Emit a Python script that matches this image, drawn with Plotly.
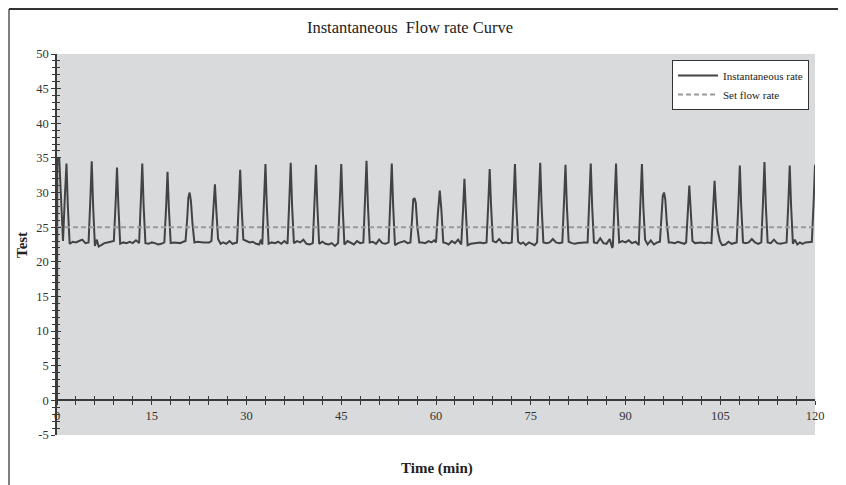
import plotly.graph_objects as go

# ---- data ----
time_min = [
    0, 0.05, 0.35, 0.65, 0.95, 1.25, 1.5, 1.72, 2.0, 2.5, 3.0, 3.5, 4.0, 4.5, 5.0,
    5.28, 5.5, 5.72, 6.0, 6.3, 6.6, 7.0, 7.5, 8.0, 8.5, 9.0,
    9.28, 9.5, 9.72, 10.0, 10.5, 11.0, 11.5, 12.0, 12.5, 13.0,
    13.28, 13.5, 13.72, 14.0, 14.5, 15.0, 15.5, 16.0, 16.5, 17.0,
    17.28, 17.5, 17.72, 18.0, 18.5, 19.0, 19.5, 20.0, 20.35,
    20.6, 20.8, 21.0, 21.2, 21.45, 21.75, 22.2, 22.7, 23.2, 23.7, 24.1, 24.45,
    24.75, 25.0, 25.22, 25.5, 25.9, 26.3, 26.8, 27.3, 27.8, 28.2, 28.5,
    28.78, 29.0, 29.22, 29.5, 30.0, 30.5, 31.0, 31.5, 32.0, 32.3, 32.5,
    32.78, 33.0, 33.22, 33.5, 34.0, 34.5, 35.0, 35.5, 36.0, 36.5,
    36.78, 37.0, 37.22, 37.5, 38.0, 38.5, 39.0, 39.5, 40.0, 40.5,
    40.78, 41.0, 41.22, 41.5, 42.0, 42.5, 43.0, 43.5, 44.0, 44.5,
    44.78, 45.0, 45.22, 45.5, 46.0, 46.5, 47.0, 47.5, 48.0, 48.5,
    48.78, 49.0, 49.22, 49.5, 50.0, 50.5, 51.0, 51.5, 52.0, 52.5,
    52.78, 53.0, 53.22, 53.5, 54.0, 54.5, 55.0, 55.5, 55.95,
    56.2, 56.4, 56.6, 56.8, 57.05, 57.35, 57.8, 58.3, 58.8, 59.3, 59.7, 60.0,
    60.3, 60.6, 60.85, 61.15, 61.6, 62.0, 62.5, 63.0, 63.5, 64.0,
    64.28, 64.5, 64.72, 65.0, 65.5, 66.0, 66.5, 67.0, 67.5, 68.0,
    68.28, 68.5, 68.72, 69.0, 69.5, 70.0, 70.5, 71.0, 71.5, 72.0,
    72.28, 72.5, 72.72, 73.0, 73.4, 73.8, 74.2, 74.7, 75.2, 75.6, 76.0,
    76.28, 76.5, 76.72, 77.0, 77.5, 78.0, 78.5, 79.0, 79.5, 80.0,
    80.28, 80.5, 80.72, 81.0, 81.5, 82.0, 82.5, 83.0, 83.5, 84.0,
    84.28, 84.5, 84.72, 85.0, 85.5, 86.0, 86.5, 87.0, 87.5, 87.9, 88.0,
    88.28, 88.5, 88.72, 89.0, 89.5, 90.0, 90.5, 91.0, 91.6, 92.1,
    92.38, 92.6, 92.82, 93.1, 93.5, 94.0, 94.5, 95.0, 95.45,
    95.7, 95.9, 96.1, 96.3, 96.55, 96.85, 97.3, 97.8, 98.3, 98.8, 99.3, 99.6,
    99.88, 100.1, 100.32, 100.6, 101.0, 101.5, 102.0, 102.5, 103.0, 103.6,
    103.88, 104.1, 104.32, 104.6, 104.95, 105.3, 105.8, 106.3, 106.8, 107.3, 107.6,
    107.88, 108.1, 108.32, 108.6, 109.0, 109.5, 110.0, 110.5, 111.0, 111.5,
    111.78, 112.0, 112.22, 112.5, 113.0, 113.5, 114.0, 114.5, 115.0, 115.5,
    115.78, 116.0, 116.22, 116.5, 116.8, 117.2, 117.6, 118.0, 118.5, 119.0, 119.5,
    119.78, 120.0,
]
inst_rate = [
    0, 35.0, 35.0, 29.0, 23.0, 29.5, 34.2, 28.0, 22.6, 22.9, 22.8, 23.0, 23.2, 22.7, 22.8,
    29.0, 34.5, 28.0, 22.3, 23.2, 22.2, 22.4, 22.7, 22.8, 22.9, 23.0,
    28.5, 33.6, 28.0, 22.6, 22.8, 22.7, 22.9, 22.7, 23.1, 22.7,
    29.0, 34.2, 28.0, 22.7, 22.6, 22.8, 22.7, 22.5, 22.6, 22.8,
    28.0, 33.0, 27.5, 22.7, 22.8, 22.8, 22.7, 22.9, 23.0,
    26.0, 29.3, 30.0, 28.8, 25.5, 22.8, 22.9, 22.8, 22.8, 22.8, 22.8, 23.0,
    27.5, 31.2, 27.5, 23.3, 22.6, 22.8, 22.6, 23.0, 22.6, 22.7, 22.8,
    28.5, 33.3, 28.0, 23.2, 23.0, 22.8, 22.9, 22.6, 22.5, 23.2, 22.5,
    29.0, 34.1, 28.0, 22.6, 22.8, 22.7, 22.9, 22.6, 23.0, 22.6,
    29.0, 34.3, 28.0, 22.7, 23.0, 22.8, 23.2, 22.6, 22.5, 22.7,
    29.0, 34.0, 28.0, 22.6, 22.9, 22.6, 22.5, 22.7, 22.3, 22.7,
    29.0, 34.1, 28.0, 22.5, 23.0, 22.7, 22.5, 23.0, 22.7, 22.8,
    29.0, 34.6, 28.2, 22.8, 22.9, 22.6, 23.2, 22.7, 22.6, 22.8,
    29.0, 34.2, 28.0, 22.4, 22.7, 22.8, 23.0, 22.7, 22.8,
    26.0, 29.0, 29.2, 28.5, 25.0, 22.8, 22.8, 22.7, 23.0, 22.8, 23.1, 22.8,
    27.0, 30.3, 27.5, 22.8, 22.7, 22.5, 23.0, 22.7, 23.2, 22.5,
    27.5, 32.0, 27.5, 22.4, 22.6, 22.7, 22.7, 22.8, 22.7, 22.8,
    28.5, 33.4, 28.0, 23.0, 22.8, 23.3, 22.7, 22.8, 22.7, 22.8,
    29.0, 34.1, 28.0, 22.9, 22.6, 22.8, 22.4, 22.8, 22.6, 22.4, 22.8,
    29.0, 34.3, 28.0, 22.8, 22.7, 22.8, 23.3, 22.8, 22.7, 22.8,
    29.0, 34.0, 28.0, 22.9, 22.7, 22.6, 22.7, 22.8, 22.8, 22.8,
    29.0, 34.2, 28.0, 22.8, 22.7, 23.4, 22.7, 22.6, 23.3, 22.0, 22.3,
    29.0, 34.2, 28.0, 22.8, 23.0, 22.8, 23.1, 22.7, 22.9, 22.4,
    29.0, 34.1, 28.0, 23.2, 22.5, 23.1, 22.5, 22.8, 22.9,
    26.0, 29.5, 30.0, 29.0, 25.5, 22.8, 22.8, 22.7, 22.9, 22.8, 22.6, 22.8,
    27.5, 31.0, 27.5, 23.0, 22.7, 22.8, 22.8, 22.7, 22.8, 22.7,
    28.0, 31.7, 28.0, 24.5, 23.0, 22.4, 22.5, 22.9, 22.6, 22.7, 22.8,
    28.5, 33.9, 28.0, 22.8, 22.7, 22.8, 23.3, 22.8, 22.6, 22.8,
    29.0, 34.4, 28.0, 22.8, 22.7, 23.2, 22.7, 22.6, 22.7, 22.8,
    28.5, 33.9, 28.0, 22.6, 23.2, 22.5, 22.8, 22.6, 22.8, 22.9, 22.9,
    28.5, 34.0,
]
set_time = [0, 120]
set_rate = [25, 25]

x_ticks = [0, 15, 30, 45, 60, 75, 90, 105, 120]
x_labels = ["0", "15", "30", "45", "60", "75", "90", "105", "120"]
y_ticks = [-5, 0, 5, 10, 15, 20, 25, 30, 35, 40, 45, 50]
y_labels = ["-5", "0", "5", "10", "15", "20", "25", "30", "35", "40", "45", "50"]

# ---- figure ----
SERIF = "Liberation Serif, Times New Roman, serif"
AX = "#3a3a3a"
OFF = 8                      # page body margin in the browser
W, H = 846 - OFF, 485 - OFF  # figure size so that it ends at the window edge
# screen-pixel targets of the plot area: left 57, right 815, top 54, bottom 435
ML, MT = 57 - OFF, 54 - OFF
MR = W - (815 - OFF)
MB = H - (435 - OFF)
PW, PH = W - ML - MR, H - MT - MB


def sx(px):
    """screen x pixel -> paper x"""
    return (px - OFF - ML) / PW


def sy(py):
    """screen y pixel -> paper y"""
    return (H - MB - (py - OFF)) / PH


fig = go.Figure()
fig.add_trace(go.Scatter(
    x=time_min, y=inst_rate, mode="lines", name="Instantaneous rate",
    line=dict(color="#434343", width=2),
))
fig.add_trace(go.Scatter(
    x=set_time, y=set_rate, mode="lines", name="Set flow rate",
    line=dict(color="#9a9a9a", width=2, dash="5px,3px"),
))
# invisible helper trace so the overlay axes (inner tick halves) are drawn
fig.add_trace(go.Scatter(
    x=[0], y=[0], xaxis="x2", yaxis="y2", mode="markers",
    marker=dict(opacity=0), showlegend=False, hoverinfo="skip",
))

xpos = 5 / 55
tickfont = dict(family=SERIF, size=12.5, color="#333333")
fig.update_layout(
    width=W, height=H,
    margin=dict(l=ML, r=MR, t=MT, b=MB, autoexpand=False),
    paper_bgcolor="white",
    plot_bgcolor="#d9dadc",
    showlegend=True,
    legend=dict(
        x=sx(809), y=sy(60), xanchor="right", yanchor="top",
        bgcolor="white", bordercolor="#333333", borderwidth=1,
        font=dict(family=SERIF, size=11, color="#222222"),
        itemwidth=40, tracegroupgap=0,
    ),
    title=dict(
        text="Instantaneous\u00a0 Flow rate Curve",
        x=sx(410), xref="paper", xanchor="center",
        y=1 - (27 - OFF) / H, yref="container", yanchor="middle",
        font=dict(family=SERIF, size=16.5, color="#222222"),
    ),
    xaxis=dict(
        range=[0, 120], tickmode="array", tickvals=x_ticks, ticktext=x_labels,
        anchor="free", position=xpos,
        showline=True, linecolor=AX, linewidth=1.5,
        ticks="outside", ticklen=4, tickwidth=1, tickcolor=AX,
        minor=dict(ticks="outside", dtick=3, ticklen=4, tickwidth=1, tickcolor=AX),
        showgrid=False, zeroline=False, tickfont=tickfont,
    ),
    xaxis2=dict(
        range=[0, 120], overlaying="x", anchor="free", position=xpos,
        tickmode="array", tickvals=x_ticks,
        ticks="inside", ticklen=4, tickwidth=1, tickcolor=AX,
        minor=dict(ticks="inside", dtick=3, ticklen=4, tickwidth=1, tickcolor=AX),
        showticklabels=False, showline=False, showgrid=False, zeroline=False,
    ),
    yaxis=dict(
        range=[-5, 50], tickmode="array", tickvals=y_ticks, ticktext=y_labels,
        showline=True, linecolor=AX, linewidth=1.5,
        ticks="outside", ticklen=4, tickwidth=1, tickcolor=AX,
        minor=dict(ticks="outside", dtick=1, ticklen=3, tickwidth=1, tickcolor=AX),
        showgrid=False, zeroline=False, tickfont=tickfont,
    ),
    yaxis2=dict(
        range=[-5, 50], overlaying="y", side="left", anchor="x",
        tickmode="array", tickvals=y_ticks,
        ticks="inside", ticklen=4, tickwidth=1, tickcolor=AX,
        minor=dict(ticks="inside", dtick=1, ticklen=3, tickwidth=1, tickcolor=AX),
        showticklabels=False, showline=False, showgrid=False, zeroline=False,
    ),
    annotations=[
        dict(text="<b>Test</b>", xref="paper", yref="paper",
             x=sx(22), y=sy(245), textangle=-90,
             showarrow=False, xanchor="center", yanchor="middle",
             font=dict(family=SERIF, size=15, color="#222222")),
        dict(text="<b>Time (min)</b>", xref="paper", yref="paper",
             x=sx(437), y=sy(468),
             showarrow=False, xanchor="center", yanchor="middle",
             font=dict(family=SERIF, size=15, color="#222222")),
    ],
    shapes=[
        dict(type="line", xref="paper", yref="paper",
             x0=sx(OFF + 1), x1=sx(OFF + 1),
             y0=sy(500), y1=sy(OFF + 1),
             line=dict(color="#555555", width=1.5)),
        dict(type="line", xref="paper", yref="paper",
             x0=sx(OFF + 1), x1=sx(860),
             y0=sy(OFF + 1), y1=sy(OFF + 1),
             line=dict(color="#333333", width=2)),
    ],
)

fig.write_html("out.html")
